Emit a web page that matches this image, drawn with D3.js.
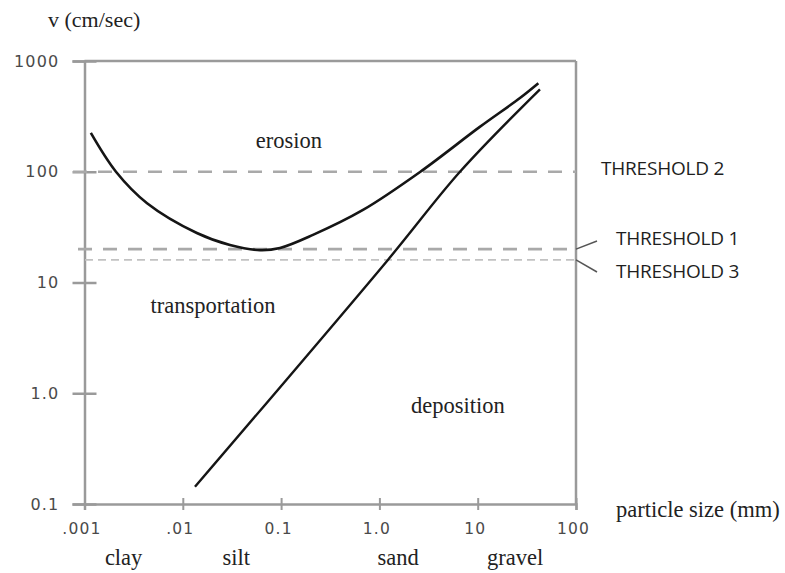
<!DOCTYPE html>
<html>
<head>
<meta charset="utf-8">
<script src="https://cdn.jsdelivr.net/npm/d3@7"></script>
<style>
  html, body { margin: 0; padding: 0; background: #fff; }
  svg { display: block; }
  .serif { font-family: "Liberation Serif", "Times New Roman", serif; fill: #222; }
  .tick-label { font-family: "DejaVu Sans", sans-serif; fill: #4a4a4a; }
  .thr-label { font-family: "Open Sans", "Noto Sans", sans-serif; fill: #1e1e1e; }
</style>
</head>
<body>
<svg id="chart" width="785" height="573"></svg>
<script>
// Tick positions and labels (log axes)
const xTickValues = [0.001, 0.01, 0.1, 1, 10, 100];
const xTickLabels = [".001", ".01", "0.1", "1.0", "10", "100"];
const yTickValues = [0.1, 1, 10, 100, 1000];
const yTickLabels = ["0.1", "1.0", "10", "100", "1000"];

// Grain classes and a representative size (mm) for each label
const grainClasses = ["clay", "silt", "sand", "gravel"];
const grainSizes = [0.0025, 0.035, 1.55, 24];

// Erosion (critical) velocity curve: particle size (mm) vs velocity (cm/s)
const erosionSize = [0.00116, 0.00209, 0.00433, 0.0139, 0.0302, 0.061, 0.0975, 0.211, 0.681, 2.59, 10.5, 26.9, 41.4];
const erosionVel  = [224, 100, 52, 28, 21.8, 19.6, 20.5, 26.9, 45.2, 99.5, 254, 463, 630];

// Settling (deposition) velocity line
const depositionSize = [0.0133, 1.22, 6.6, 43];
const depositionVel  = [0.143, 16, 100, 555];

// Horizontal velocity thresholds (cm/s)
const thresholdNames = ["THRESHOLD 2", "THRESHOLD 1", "THRESHOLD 3"];
const thresholdVel = [100, 20, 16];

// Region names
const regionNames = ["erosion", "transportation", "deposition"];
const regionSize = [0.12, 0.0203, 6.3];
const regionVel = [164, 5.3, 0.66];

const svg = d3.select("#chart");

const x = d3.scaleLog().domain([0.001, 100]).range([84.5, 576]);
const y = d3.scaleLog().domain([0.1, 1000]).range([504, 61]);

const frameColor = "#9a9a9a";

// Plot frame: top and right edges
svg.append("line")
  .attr("x1", x(0.001)).attr("x2", x(100))
  .attr("y1", y(1000)).attr("y2", y(1000))
  .attr("stroke", frameColor).attr("stroke-width", 2.5);
svg.append("line")
  .attr("x1", x(100)).attr("x2", x(100))
  .attr("y1", y(1000)).attr("y2", y(0.1))
  .attr("stroke", frameColor).attr("stroke-width", 2.5);

// Y axis
const yAxis = svg.append("g")
  .attr("transform", `translate(${x(0.001)},0)`)
  .call(d3.axisLeft(y).tickValues(yTickValues)
    .tickFormat((d, i) => yTickLabels[i]).tickSize(12).tickPadding(13));
yAxis.select(".domain").attr("stroke", frameColor).attr("stroke-width", 2.5);
yAxis.selectAll(".tick line").attr("stroke", frameColor).attr("stroke-width", 2.5).attr("x1", 12);
yAxis.selectAll(".tick text")
  .attr("class", "tick-label")
  .attr("font-size", 16)
  .attr("letter-spacing", 1.2)
  .attr("fill", "#4a4a4a");

// X axis
const xAxis = svg.append("g")
  .attr("transform", `translate(0,${y(0.1)})`)
  .call(d3.axisBottom(x).tickValues(xTickValues)
    .tickFormat((d, i) => xTickLabels[i]).tickSize(6).tickPadding(13));
xAxis.select(".domain").attr("stroke", frameColor).attr("stroke-width", 2.5);
xAxis.selectAll(".tick line").attr("stroke", frameColor).attr("stroke-width", 2).attr("y1", -6);
xAxis.selectAll(".tick text")
  .attr("class", "tick-label")
  .attr("font-size", 15.5)
  .attr("letter-spacing", 1.2)
  .attr("dx", -3)
  .attr("fill", "#4a4a4a");

// Threshold dashed lines
const thrStart = [73, 78, 85];
const thrStyle = [
  { stroke: "#a9a9a9", width: 2.6, dash: "14,11" },
  { stroke: "#a9a9a9", width: 2.6, dash: "14,11" },
  { stroke: "#c2c2c2", width: 1.6, dash: "8,5" }
];
svg.append("g").selectAll("line")
  .data(thresholdVel)
  .join("line")
  .attr("x1", (d, i) => thrStart[i])
  .attr("x2", x(100))
  .attr("y1", d => y(d)).attr("y2", d => y(d))
  .attr("stroke", (d, i) => thrStyle[i].stroke)
  .attr("stroke-width", (d, i) => thrStyle[i].width)
  .attr("stroke-dasharray", (d, i) => thrStyle[i].dash);

// Threshold labels with short leaders for the two close lines
const thrLabelX = [601, 616, 616];
const thrLabelY = [168, 238, 271];
const leaderEnd = [null, [597, 241], [597, 272]];
thresholdVel.forEach((v, i) => {
  if (leaderEnd[i]) {
    svg.append("line")
      .attr("x1", x(100)).attr("y1", y(v))
      .attr("x2", leaderEnd[i][0]).attr("y2", leaderEnd[i][1])
      .attr("stroke", "#555").attr("stroke-width", 1.5);
  }
  svg.append("text")
    .attr("class", "thr-label")
    .attr("x", thrLabelX[i]).attr("y", thrLabelY[i])
    .attr("dy", "0.36em")
    .attr("font-size", 19)
    .attr("letter-spacing", -0.2)
    .text(thresholdNames[i]);
});

// Curves
const line = d3.line()
  .x(d => x(d[0]))
  .y(d => y(d[1]));

svg.append("path")
  .datum(erosionSize.map((s, i) => [s, erosionVel[i]]))
  .attr("d", line.curve(d3.curveCatmullRom.alpha(0.5)))
  .attr("fill", "none").attr("stroke", "#151515").attr("stroke-width", 2.6);

svg.append("path")
  .datum(depositionSize.map((s, i) => [s, depositionVel[i]]))
  .attr("d", line.curve(d3.curveCatmullRom.alpha(0.5)))
  .attr("fill", "none").attr("stroke", "#151515").attr("stroke-width", 2.4);

// Region names
svg.append("g").selectAll("text")
  .data(regionNames)
  .join("text")
  .attr("class", "serif")
  .attr("x", (d, i) => x(regionSize[i]))
  .attr("y", (d, i) => y(regionVel[i]))
  .attr("text-anchor", "middle")
  .attr("font-size", 22.5)
  .text(d => d);

// Grain class names under the x axis
svg.append("g").selectAll("text")
  .data(grainClasses)
  .join("text")
  .attr("class", "serif")
  .attr("x", (d, i) => x(grainSizes[i]))
  .attr("y", 565)
  .attr("text-anchor", "middle")
  .attr("font-size", 22.5)
  .text(d => d);

// Axis titles
svg.append("text")
  .attr("class", "serif")
  .attr("x", 48).attr("y", 27)
  .attr("font-size", 22)
  .text("v (cm/sec)");

svg.append("text")
  .attr("class", "serif")
  .attr("x", 616).attr("y", 517)
  .attr("font-size", 22.5)
  .text("particle size (mm)");
</script>
</body>
</html>
